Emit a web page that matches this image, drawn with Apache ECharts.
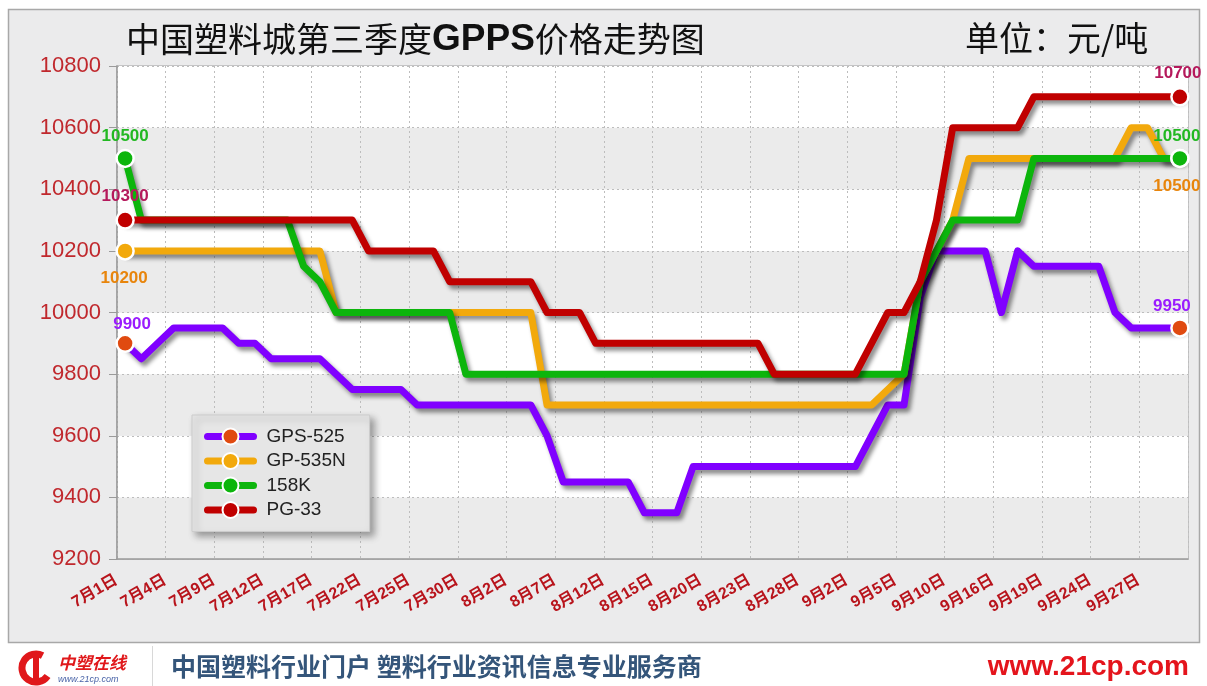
<!DOCTYPE html>
<html>
<head>
<meta charset="utf-8">
<script src="https://cdn.jsdelivr.net/npm/echarts@6/dist/echarts.min.js"></script>
<style>
  html, body { margin: 0; padding: 0; background: #fff; }
  #chart { width: 1207px; height: 686px; }
</style>
</head>
<body>
<div id="chart"></div>
<script>
// trading days, July - September
const categories = [
  '7月1日','7月2日','7月3日','7月4日','7月5日','7月8日','7月9日','7月10日','7月11日','7月12日',
  '7月15日','7月16日','7月17日','7月18日','7月19日','7月22日','7月23日','7月24日','7月25日','7月26日',
  '7月29日','7月30日','7月31日','8月1日','8月2日','8月5日','8月6日','8月7日','8月8日','8月9日',
  '8月12日','8月13日','8月14日','8月15日','8月16日','8月19日','8月20日','8月21日','8月22日','8月23日',
  '8月26日','8月27日','8月28日','8月29日','8月30日','9月2日','9月3日','9月4日','9月5日','9月6日',
  '9月9日','9月10日','9月11日','9月12日','9月16日','9月17日','9月18日','9月19日','9月20日','9月23日',
  '9月24日','9月25日','9月26日','9月27日','9月29日','9月30日'
];

const seriesNames = ['GPS-525', 'GP-535N', '158K', 'PG-33'];

const gps525 = [
  9900, 9850, 9900, 9950, 9950, 9950, 9950, 9900, 9900, 9850,
  9850, 9850, 9850, 9800, 9750, 9750, 9750, 9750, 9700, 9700,
  9700, 9700, 9700, 9700, 9700, 9700, 9600, 9450, 9450, 9450,
  9450, 9450, 9350, 9350, 9350, 9500, 9500, 9500, 9500, 9500,
  9500, 9500, 9500, 9500, 9500, 9500, 9600, 9700, 9700, 10050,
  10200, 10200, 10200, 10200, 10000, 10200, 10150, 10150, 10150, 10150,
  10150, 10000, 9950, 9950, 9950, 9950
];
const gp535n = [
  10200, 10200, 10200, 10200, 10200, 10200, 10200, 10200, 10200, 10200,
  10200, 10200, 10200, 10000, 10000, 10000, 10000, 10000, 10000, 10000,
  10000, 10000, 10000, 10000, 10000, 10000, 9700, 9700, 9700, 9700,
  9700, 9700, 9700, 9700, 9700, 9700, 9700, 9700, 9700, 9700,
  9700, 9700, 9700, 9700, 9700, 9700, 9700, 9750, 9800, 10100,
  10200, 10300, 10500, 10500, 10500, 10500, 10500, 10500, 10500, 10500,
  10500, 10500, 10600, 10600, 10500, 10500
];
const k158 = [
  10500, 10300, 10300, 10300, 10300, 10300, 10300, 10300, 10300, 10300,
  10300, 10150, 10100, 10000, 10000, 10000, 10000, 10000, 10000, 10000,
  10000, 9800, 9800, 9800, 9800, 9800, 9800, 9800, 9800, 9800,
  9800, 9800, 9800, 9800, 9800, 9800, 9800, 9800, 9800, 9800,
  9800, 9800, 9800, 9800, 9800, 9800, 9800, 9800, 9800, 10100,
  10200, 10300, 10300, 10300, 10300, 10300, 10500, 10500, 10500, 10500,
  10500, 10500, 10500, 10500, 10500, 10500
];
const pg33 = [
  10300, 10300, 10300, 10300, 10300, 10300, 10300, 10300, 10300, 10300,
  10300, 10300, 10300, 10300, 10300, 10200, 10200, 10200, 10200, 10200,
  10100, 10100, 10100, 10100, 10100, 10100, 10000, 10000, 10000, 9900,
  9900, 9900, 9900, 9900, 9900, 9900, 9900, 9900, 9900, 9900,
  9800, 9800, 9800, 9800, 9800, 9800, 9900, 10000, 10000, 10100,
  10300, 10600, 10600, 10600, 10600, 10600, 10700, 10700, 10700, 10700,
  10700, 10700, 10700, 10700, 10700, 10700
];

const yTicks = [9200, 10800, 200]; // min, max, step

const lineColors = ['#8000ff', '#f2a90c', '#0cb50c', '#c00000'];
const dotColors = ['#e04a10', '#f2a90c', '#0cb50c', '#c00000'];
const labelColors = ['#9a1cff', '#e8850c', '#22b822', '#b5195c'];

const FONT = '"Liberation Sans", Arial, "Noto Sans CJK SC", sans-serif';
const CJK = '"Noto Sans CJK SC", sans-serif';

// only the first and last point get a marker and a value label
function endpointLabel(color, pos, dist, dx) {
  return {
    show: true, position: pos, distance: dist, offset: [dx, 0],
    color: color, fontSize: 17, fontWeight: 'bold', fontFamily: FONT
  };
}
function buildData(values, idx, first, last) {
  return values.map((v, i) => {
    if (i === 0) return { value: v, label: endpointLabel(labelColors[idx], first[0], first[1], first[2]) };
    if (i === values.length - 1) return { value: v, label: endpointLabel(labelColors[idx], last[0], last[1], last[2]) };
    return { value: v, symbol: 'none' };
  });
}

const allValues = [gps525, gp535n, k158, pg33];
const labelPlaces = [
  [['top', 1, 7], ['top', 3, -8]],
  [['bottom', 9, -1], ['bottom', 10, -3]],
  [['top', 4, 0], ['top', 4, -3]],
  [['top', 6, 0], ['top', 5, -2]]
];

const series = allValues.map((vals, idx) => ({
  name: seriesNames[idx],
  type: 'line',
  data: buildData(vals, idx, labelPlaces[idx][0], labelPlaces[idx][1]),
  symbol: 'circle',
  symbolSize: 17,
  showAllSymbol: true,
  itemStyle: { color: dotColors[idx], borderColor: '#fff', borderWidth: 2.5 },
  lineStyle: {
    color: lineColors[idx], width: 7, cap: 'round', join: 'round',
    shadowColor: 'rgba(0,0,0,0.45)', shadowBlur: 4, shadowOffsetX: 3, shadowOffsetY: 4
  },
  emphasis: { disabled: true },
  animation: false
}));

const chart = echarts.init(document.getElementById('chart'));
chart.setOption({
  backgroundColor: '#ffffff',
  animation: false,
  graphic: [
    { type: 'rect', z: -100, shape: { x: 8.5, y: 9.5, width: 1191, height: 633 },
      style: { fill: '#ebebec', stroke: '#a8a8a8', lineWidth: 1.5 } },
    { type: 'line', shape: { x1: 152.5, y1: 646, x2: 152.5, y2: 686 },
      style: { stroke: '#d8d8d8', lineWidth: 1 } },
    // logo (approximation)
    { type: 'arc', shape: { cx: 36, cy: 668, r: 14, startAngle: 0.6, endAngle: 5.2 },
      style: { stroke: '#e0181b', lineWidth: 7, fill: null } },
    { type: 'rect', shape: { x: 33, y: 652, width: 6, height: 32 }, style: { fill: '#e0181b' } },
    { type: 'text', left: 58, top: 654,
      style: { text: '中塑在线', fill: '#e0181b', font: 'italic bold 17px ' + CJK } },
    { type: 'text', left: 58, top: 675,
      style: { text: 'www.21cp.com', fill: '#4a64a8', font: 'italic 9px ' + FONT } },
    { type: 'text', left: 171, top: 654,
      style: { text: '中国塑料行业门户 塑料行业资讯信息专业服务商', fill: '#34557a', font: 'bold 25px ' + CJK } },
    { type: 'text', right: 18, top: 653,
      style: { text: 'www.21cp.com', fill: '#e4141c', font: 'bold 28px ' + FONT } }
  ],
  title: [
    {
      text: '{a|中国塑料城第三季度}{b|GPPS}{a|价格走势图}',
      left: 121, top: 16,
      textStyle: {
        rich: {
          a: { fontSize: 34, fontWeight: 'normal', fontFamily: CJK, color: '#111' },
          b: { fontSize: 37, fontWeight: 'bold', fontFamily: FONT, color: '#111' }
        }
      }
    },
    {
      text: '单位：元/吨',
      left: 960, top: 16,
      textStyle: { fontSize: 34, fontWeight: 'normal', fontFamily: CJK, color: '#111' }
    }
  ],
  legend: {
    orient: 'vertical',
    left: 192, top: 415,
    padding: [12, 24, 12, 12],
    itemWidth: 46, itemHeight: 20, itemGap: 5.5,
    backgroundColor: '#e6e6e6',
    borderColor: '#cccccc', borderWidth: 1,
    shadowColor: 'rgba(0,0,0,0.35)', shadowBlur: 7, shadowOffsetX: 4, shadowOffsetY: 4,
    lineStyle: { width: 7, cap: 'round' },
    itemStyle: { borderColor: '#fff', borderWidth: 2 },
    textStyle: { fontSize: 19, color: '#222', fontFamily: FONT, padding: [0, 0, 0, 8] },
    data: seriesNames
  },
  grid: {
    left: 117, right: 19, top: 66, bottom: 127,
    show: true, borderColor: '#b8b8b8', borderWidth: 1.5, backgroundColor: 'transparent'
  },
  xAxis: {
    type: 'category',
    data: categories,
    boundaryGap: true,
    axisLine: { lineStyle: { color: '#9a9a9a', width: 1.5 } },
    axisTick: { interval: 2, length: 6, lineStyle: { color: '#9a9a9a' } },
    axisLabel: {
      interval: 2, rotate: 30, margin: 15, padding: [0, 10, 0, 0],
      color: '#b8141c', fontSize: 16, fontWeight: 'bold', fontFamily: FONT
    },
    splitLine: { show: true, interval: 2, lineStyle: { color: '#bdbdbd', type: [2, 3] } }
  },
  yAxis: {
    type: 'value',
    min: yTicks[0], max: yTicks[1], interval: yTicks[2],
    axisLine: { show: true, lineStyle: { color: '#9a9a9a', width: 1.5 } },
    axisTick: { show: true, length: 8, lineStyle: { color: '#9a9a9a' } },
    axisLabel: { color: '#c0282d', fontSize: 22, fontFamily: FONT, margin: 16, formatter: v => String(v) },
    splitLine: { lineStyle: { color: '#bdbdbd', type: [2, 3] } },
    splitArea: { show: true, areaStyle: { color: ['#ebebeb', '#ffffff'] } }
  },
  series: series
});
</script>
</body>
</html>
